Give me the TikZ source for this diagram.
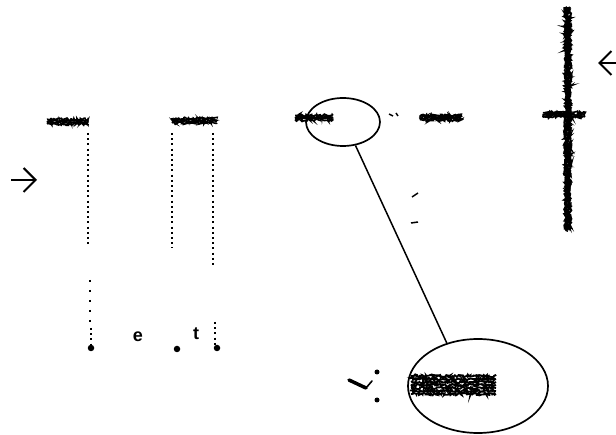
\documentclass[tikz,border=0pt]{standalone}
\usepackage{fontspec}
\setsansfont{Liberation Sans}
\usetikzlibrary{shapes.geometric,decorations.pathmorphing,arrows.meta}
\begin{document}
\begin{tikzpicture}[x=1pt,y=-1pt,
  noisy/.style={line width=1.6pt,decorate,decoration={random steps,segment length=0.9pt,amplitude=1.3pt}},
  dotline/.style={line width=2pt,dash pattern=on 2pt off 3.2pt},
  sparse/.style={line width=2pt,dash pattern=on 2pt off 8pt},
  bigdot/.style={circle,fill=black,inner sep=0pt,minimum size=6.5pt},
  lens/.style={ellipse,draw,line width=1.7pt,inner sep=0pt},
  arr/.style={line width=2pt,-{Straight Barb[length=12pt,width=24pt,line width=2pt]}},
  lbl/.style={font=\sffamily\bfseries\fontsize{18}{18}\selectfont,inner sep=0pt}]
\pgfmathsetseed{7}
\useasboundingbox (0,0) rectangle (616,435);
% entry arrows
\coordinate (inL) at (11,180);
\coordinate (inLtip) at (37,180);
\draw[arr] (inL) -- (inLtip);
\coordinate (inR) at (618,63);
\coordinate (inRtip) at (598,63);
\draw[arr] (inR) -- (inRtip);
% noisy horizontal bars
\foreach \o in {-2.5,-1,0.5,2}{
  \draw[noisy] (47,122+\o) -- (88,122+\o);
  \draw[noisy] (172,121+\o) -- (217,121+\o);
  \draw[noisy] (295,118+\o) -- (333,118+\o);
  \draw[noisy] (420,118+\o) -- (462,118+\o);
  \draw[noisy] (543,115+\o) -- (585,115+\o);
}
\foreach \o in {-2.5,-1,0.5,2}{
  \draw[noisy,line width=2pt] (568+\o,7) -- (568+\o,230);
}
% small specks
\draw[line width=1.5pt] (389,114) -- (393,116) (396,113) -- (398,116);
\draw[line width=1.5pt] (412,197) -- (418,193);
\draw[line width=1.5pt] (411,223) -- (418,222);
% dotted verticals
\draw[dotline] (88,133) -- (88,247);
\draw[sparse] (90,280) -- (90,328);
\draw[dotline] (91,328) -- (91,346);
\draw[dotline] (172,133) -- (172,248);
\draw[dotline] (213,133) -- (213,267);
\draw[dotline] (215,322) -- (215,346);
\node[bigdot] (d1) at (91,348) {};
\node[bigdot] (d2) at (177,349) {};
\node[bigdot] (d3) at (217,348) {};
% labels
\node[lbl] (le) at (138,337) {e};
\node[lbl] (lt) at (196,334) {t};
% magnifier
\node[lens,minimum width=74pt,minimum height=48pt] (small) at (343,122) {};
\node[lens,minimum width=140pt,minimum height=94pt] (big) at (478,386) {};
\draw[line width=1.5pt] (small.-62) -- (big.126);
\foreach \o in {-9,-6,-3,0,3,6,9}{
  \draw[noisy,line width=1.8pt] (411,385+\o) -- (496,385+\o);
}
% hook mark
\draw[line width=3.5pt,line cap=round] (349,380) -- (366,388);
\draw[line width=1.6pt,line cap=round] (366,388) -- (372,381);
\node[bigdot,minimum size=5pt] (m1) at (377,372) {};
\node[bigdot,minimum size=5pt] (m2) at (377,400) {};
\end{tikzpicture}
\end{document}
